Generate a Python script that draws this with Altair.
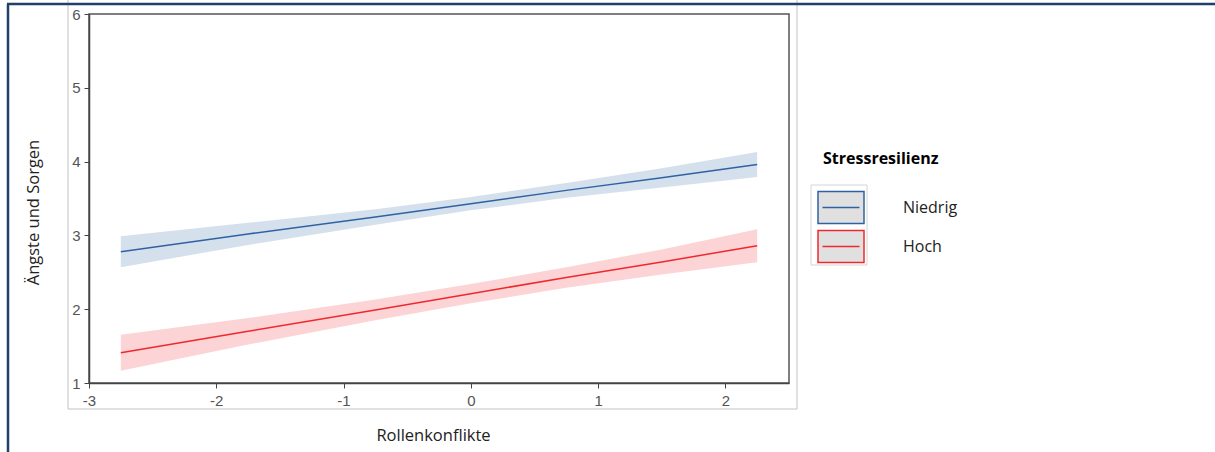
import altair as alt
import pandas as pd

# Moderation plot: Rollenkonflikte -> Ängste und Sorgen, split by Stressresilienz
groups = ["Niedrig", "Hoch"]
line_colors = ["#2f62a3", "#f0282d"]

x_vals = [-2.75, -1.75, -0.75, 0.0, 0.75, 1.5, 2.25]

niedrig_fit = [2.78, 3.02, 3.25, 3.43, 3.61, 3.78, 3.96]
niedrig_lo = [2.57, 2.87, 3.145, 3.34, 3.51, 3.65, 3.79]
niedrig_hi = [2.99, 3.17, 3.355, 3.52, 3.71, 3.91, 4.13]

hoch_fit = [1.41, 1.70, 1.99, 2.21, 2.43, 2.64, 2.86]
hoch_lo = [1.165, 1.52, 1.85, 2.08, 2.29, 2.47, 2.635]
hoch_hi = [1.655, 1.88, 2.13, 2.34, 2.57, 2.81, 3.085]

x_ticks = [-3, -2, -1, 0, 1, 2]
y_ticks = [1, 2, 3, 4, 5, 6]

rows = []
for g, fit, lo, hi in [("Niedrig", niedrig_fit, niedrig_lo, niedrig_hi),
                       ("Hoch", hoch_fit, hoch_lo, hoch_hi)]:
    for xv, f, l, h in zip(x_vals, fit, lo, hi):
        rows.append({"gruppe": g, "x": xv, "fit": f, "lo": l, "hi": h})
df = pd.DataFrame(rows)
dummy = pd.DataFrame({"k": [0]})

W, H = 700, 369

common_axis = dict(titleBaseline="middle", titleFont="Open Sans", titleFontSize=16.5,
                   titleFontWeight="normal", titleColor="#222222",
                   labelFont="Liberation Sans", labelFontSize=15, labelColor="#555555",
                   labelExpr="'' + datum.value",
                   tickSize=5, tickColor="#444444", domainColor="#444444",
                   domainWidth=1.5, grid=False, labelFlush=False)
x_axis = alt.Axis(values=x_ticks, title="Rollenkonflikte", titleX=344, titleY=52,
                  labelPadding=5, **common_axis)
y_axis = alt.Axis(values=y_ticks, title="Ängste und Sorgen", titleX=-56, titleY=198,
                  labelPadding=4, **common_axis)

x_scale = alt.Scale(domain=[-3, 2.5], nice=False, zero=False)
y_scale = alt.Scale(domain=[1, 6], nice=False, zero=False)
c_scale = alt.Scale(domain=groups, range=line_colors)

# legend key: grey box with coloured outline and a line through the middle
key_path = "M-1.387,-1.032H1.581V1.032H-1.387Z M-1.097,0H1.291"


def band_layer(group, colour):
    return alt.Chart(df).transform_filter(
        alt.datum.gruppe == group
    ).mark_area(opacity=0.2, color=colour).encode(
        x=alt.X("x:Q", scale=x_scale, axis=x_axis),
        y=alt.Y("lo:Q", scale=y_scale, axis=y_axis),
        y2="hi:Q",
    )


bands = [band_layer(g, c) for g, c in zip(groups, line_colors)]

line = alt.Chart(df).mark_line(strokeWidth=1.5).encode(
    x=alt.X("x:Q", scale=x_scale, axis=x_axis),
    y=alt.Y("fit:Q", scale=y_scale, axis=y_axis),
    color=alt.Color("gruppe:N", scale=c_scale, sort=groups,
                    legend=alt.Legend(title="Stressresilienz", orient="none",
                                      legendX=734, legendY=137, padding=0,
                                      symbolType=key_path, symbolSize=961,
                                      symbolFillColor="#e0e0e0", symbolStrokeWidth=1.5,
                                      symbolOpacity=1,
                                      titleFont="Open Sans", titleFontSize=16,
                                      titleFontWeight="bold", titleColor="#000000",
                                      titlePadding=24,
                                      labelFont="Open Sans", labelFontSize=16,
                                      labelColor="#222222", labelOffset=47,
                                      rowPadding=0)),
)

# page frame and image border around the plot
frame_top = alt.Chart(dummy).mark_rule(color="#203f69", strokeWidth=2.5).encode(
    x=alt.value(-82), x2=alt.value(1130), y=alt.value(-10))
frame_left = alt.Chart(dummy).mark_rule(color="#203f69", strokeWidth=2.5).encode(
    x=alt.value(-81), y=alt.value(-10), y2=alt.value(440))
img_box = alt.Chart(dummy).mark_rect(fill="transparent", stroke="#c3c3c3", strokeWidth=1).encode(
    x=alt.value(-21), x2=alt.value(708), y=alt.value(-16), y2=alt.value(395))
key_box = alt.Chart(dummy).mark_rect(fill="transparent", stroke="#d4d4d4", strokeWidth=1).encode(
    x=alt.value(722), x2=alt.value(778), y=alt.value(171), y2=alt.value(251))

chart = alt.layer(img_box, key_box, *bands, line, frame_top, frame_left).properties(
    width=W, height=H,
    autosize=alt.AutoSizeParams(type="none"),
    padding={"left": 89, "top": 14, "right": 1215 - 89 - W, "bottom": 452 - 14 - H},
    background="white",
).configure_view(stroke="#555555", strokeWidth=1.5)

chart.save("out.html", embed_options={"renderer": "svg", "actions": False})
